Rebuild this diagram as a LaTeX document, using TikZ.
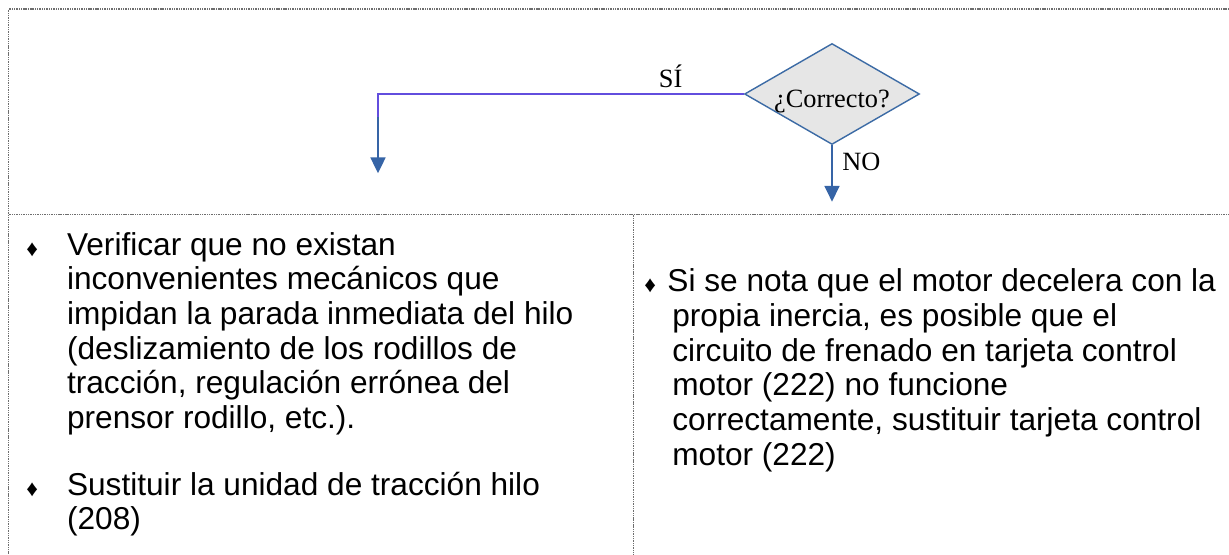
\documentclass[tikz,border=0pt]{standalone}
\usepackage{fontspec}
\setmainfont{Liberation Sans}
\newfontfamily\serifa{Liberation Serif}
\usepackage{tikz}
\usetikzlibrary{shapes.geometric, arrows.meta, positioning}
\definecolor{azulflecha}{RGB}{54,100,166}
\definecolor{azulborde}{RGB}{60,107,165}
\definecolor{morado}{RGB}{98,78,222}
\definecolor{grisrombo}{RGB}{230,230,230}
\definecolor{grismarco}{RGB}{110,110,110}
\newcommand{\rombo}{\raisebox{-0.5pt}{\fontsize{13}{13}\selectfont ♦}}
\tikzset{
  marco/.style={draw=grismarco, line width=0.7pt, dash pattern=on 0.6pt off 0.4pt},
  decision/.style={diamond, aspect=1.73, draw=azulborde, line width=0.8pt, fill=grisrombo, minimum width=3.5cm, minimum height=2.02cm, inner sep=0pt, font=\serifa\fontsize{15}{17}\selectfont},
  etiqueta/.style={text=black, font=\serifa\fontsize{15}{17}\selectfont},
  flecha/.style={-{Triangle[width=8.5pt, length=9pt]}, azulflecha, line width=1pt},
  lineasi/.style={morado, line width=1pt},
  parrafo/.style={anchor=base west, align=left, inner sep=0pt, font=\fontsize{18}{19.7}\selectfont},
}

\begin{document}
\begin{tikzpicture}[x=0.02cm, y=-0.02cm]
  \useasboundingbox (0,0) rectangle (1229,554);
  % Marco de la tabla
  \draw[marco] (1229,9) -- (8.5,9) -- (8.5,554);
  \draw[marco] (8.5,214.5) -- (1229,214.5);
  \draw[marco] (633.3,214.5) -- (633.3,554);
  % Decision
  \node[decision] (check) at (832,94) {\raisebox{-4pt}[\height][\depth]{¿Correcto?}};
  \coordinate (si1) at (378,117);
  \coordinate (si2) at (378,173.3);
  \coordinate (no1) at (832,201.7);
  \draw[lineasi] (check.west) -| node[etiqueta, pos=0.1, above] (lsi) {SÍ} (si1);
  \draw[flecha] (si1) -- (si2);
  \draw[flecha] (check.south) -- node[etiqueta, pos=0.3, right, xshift=2pt] (lno) {NO} (no1);
  % Columna izquierda (base = ultima linea)
  \node[parrafo] (izq1) at (66.7,428.3) {\llap{\rombo\hspace{16.5pt}}Verificar que no existan\\
    inconvenientes mecánicos que\\
    impidan la parada inmediata del hilo\\
    (deslizamiento de los rodillos de\\
    tracción, regulación errónea del\\
    prensor rodillo, etc.).};
  \node[parrafo] (izq2) at (66.7,529.8) {\llap{\rombo\hspace{16.5pt}}Sustituir la unidad de tracción hilo\\
    (208)};
  % Columna derecha
  \node[parrafo] (der) at (672,465) {\hspace*{-2.8pt}\llap{\rombo\hspace{6.5pt}}Si se nota que el motor decelera con la\\
    propia inercia, es posible que el\\
    circuito de frenado en tarjeta control\\
    motor (222) no funcione\\
    correctamente, sustituir tarjeta control\\
    motor (222)};
\end{tikzpicture}
\end{document}
